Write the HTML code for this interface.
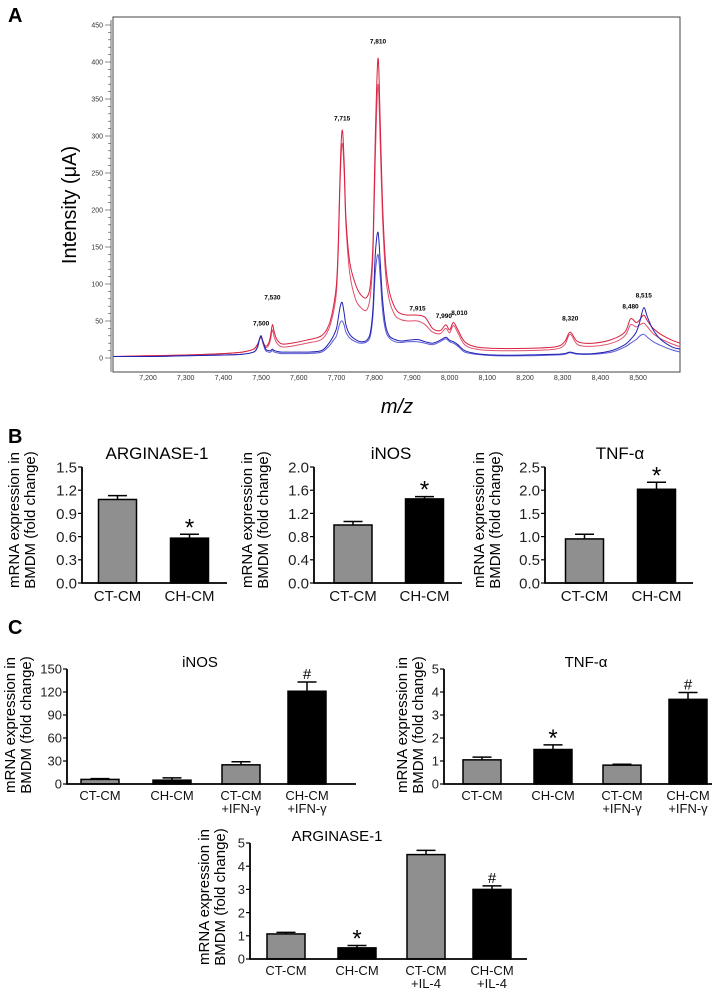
<!DOCTYPE html>
<html><head><meta charset="utf-8"><style>
html,body{margin:0;padding:0;background:#fff;}
svg{display:block;font-family:"Liberation Sans",sans-serif;}
</style></head><body>
<svg id="fig" width="725" height="993" viewBox="0 0 725 993" xmlns="http://www.w3.org/2000/svg">
<rect width="725" height="993" fill="#fff"/>
<text x="8" y="22" font-size="20" font-weight="bold">A</text>
<text x="8" y="443" font-size="20" font-weight="bold">B</text>
<text x="8" y="634" font-size="20" font-weight="bold">C</text>
<g id="spec"></g>
<g id="bars"></g>
</svg>
<script>
// ---- Panel A spectrum data ----
const mzGrid=[7108,7200,7300,7400,7450,7480,7490,7495,7500,7505,7512,7520,7525,7530,7535,7542,7555,7580,7620,7660,7680,7692,7700,7705,7710,7715,7720,7725,7735,7750,7765,7780,7790,7797,7803,7810,7816,7822,7830,7840,7855,7870,7890,7915,7935,7955,7975,7990,8000,8010,8022,8040,8070,8120,8200,8280,8305,8320,8340,8380,8430,8465,8480,8495,8505,8515,8525,8540,8560,8590,8612];
const redUpper=[2,3,4,6,8,12,18,24,28,22,16,20,30,45,35,25,19,20,24,30,45,70,100,160,260,308,270,190,130,100,85,82,100,160,300,405,320,210,130,90,68,60,58,58,55,40,37,45,38,48,38,22,15,13,13,15,22,35,22,20,25,35,53,48,52,58,50,40,32,24,20];
const redLower=[2,3,4,6,8,12,18,24,28,20,14,17,25,38,28,20,15,16,20,25,40,62,90,150,245,290,255,180,115,80,68,65,85,145,270,370,290,190,115,78,58,52,50,50,45,35,33,40,34,44,34,18,12,10,10,12,18,32,18,16,20,30,45,42,45,47,42,33,26,19,15];
const blueUpper=[2,2,3,4,5,8,14,24,30,22,12,10,10,12,10,9,8,8,8,10,20,30,40,55,70,75,62,45,32,25,22,24,35,70,140,170,130,80,45,30,25,23,24,25,22,20,24,28,24,22,18,10,6,4,4,5,6,8,6,6,10,18,25,35,50,68,55,38,25,15,12];
const blueLower=[2,2,3,4,5,8,14,24,30,20,10,8,8,10,8,7,6,6,6,8,16,24,30,40,48,50,45,35,27,22,20,22,30,60,115,140,110,65,38,27,22,21,22,22,20,18,22,26,22,20,16,8,5,3,3,4,5,7,5,5,8,15,20,25,30,32,28,22,17,11,8];
const peakMz=[7500,7530,7715,7810,7915,7990,8010,8320,8480,8515];
const peakLabelVal=[44,79,321,425,64,54,58,51,67,82];
const xTickVals=[7200,7300,7400,7500,7600,7700,7800,7900,8000,8100,8200,8300,8400,8500];
const yTickVals=[0,50,100,150,200,250,300,350,400,450];

const NS="http://www.w3.org/2000/svg";
function mk(parent,tag,attrs,txt){const e=document.createElementNS(NS,tag);for(const k in attrs)e.setAttribute(k,attrs[k]);if(txt!==undefined)e.textContent=txt;parent.appendChild(e);return e;}
const fmt=v=>v.toLocaleString('en-US');

const spec=document.getElementById('spec');
const sx=mz=>148+(mz-7200)*0.377;
const sy=v=>358-v*0.74;
let fr=mk(spec,'rect',{x:113,y:17,width:567,height:355,fill:'none',stroke:'#444','stroke-width':1});


let ya=mk(spec,'line',{x1:111,y1:20,x2:111,y2:372,stroke:'#444','stroke-width':0.8});


for(let v=0;v<=450;v+=10){
  const maj=v%50===0;
  mk(spec,'line',{x1:maj?105:108,y1:sy(v),x2:111,y2:sy(v),stroke:'#444','stroke-width':0.6});
}
yTickVals.forEach(v=>{
  const t=mk(spec,'text',{x:103,y:sy(v)+2.5,'font-size':7,'text-anchor':'end',fill:'#333'},String(v));
  
  
});
xTickVals.forEach(v=>{
  const t=mk(spec,'text',{x:sx(v),y:380,'font-size':7,'text-anchor':'middle',fill:'#333'},fmt(v));
  
  
});
let yt=mk(spec,'text',{x:0,y:0,'font-size':20,'text-anchor':'middle',transform:'translate(76,205) rotate(-90)'},'Intensity (μA)');


let xt=mk(spec,'text',{x:397,y:413,'font-size':20,'font-style':'italic','text-anchor':'middle'},'m/z');


function smoothPath(pts){
  let d='M'+pts[0][0].toFixed(1)+' '+pts[0][1].toFixed(1);
  for(let i=0;i<pts.length-1;i++){
    const p0=pts[Math.max(0,i-1)],p1=pts[i],p2=pts[i+1],p3=pts[Math.min(pts.length-1,i+2)];
    const c1=[p1[0]+(p2[0]-p0[0])/6,p1[1]+(p2[1]-p0[1])/6];
    const c2=[p2[0]-(p3[0]-p1[0])/6,p2[1]-(p3[1]-p1[1])/6];
    d+=` C${c1[0].toFixed(1)} ${c1[1].toFixed(1)} ${c2[0].toFixed(1)} ${c2[1].toFixed(1)} ${p2[0].toFixed(1)} ${p2[1].toFixed(1)}`;
  }
  return d;
}
const series=[[redLower,'#e0506e','red-spectrum-lower'],[redUpper,'#d8203f','red-spectrum-upper'],[blueLower,'#5a5ad8','blue-spectrum-lower'],[blueUpper,'#2222b0','blue-spectrum-upper']];
series.forEach(([vals,col,name])=>{
  const pts=vals.map((v,i)=>[sx(mzGrid[i]),sy(v)]);
  const p=mk(spec,'path',{d:smoothPath(pts),fill:'none',stroke:col,'stroke-width':1,'stroke-linejoin':'round'});
  
  
});
peakMz.forEach((m,i)=>{
  const dx=(m===8010)?6:(m===7990?-2:0);
  const t=mk(spec,'text',{x:sx(m)+dx,y:sy(peakLabelVal[i]),'font-size':6.5,'font-weight':'bold','text-anchor':'middle'},fmt(m));
  
  
});

// ---- Bar chart data ----
const bCats=['CT-CM','CH-CM'];
const bArgVals=[1.08,0.58], bArgErr=[0.05,0.05], bArgTicks=[0,0.3,0.6,0.9,1.2,1.5];
const bInosVals=[1.0,1.45], bInosErr=[0.06,0.04], bInosTicks=[0,0.4,0.8,1.2,1.6,2.0];
const bTnfVals=[0.95,2.02], bTnfErr=[0.1,0.15], bTnfTicks=[0,0.5,1.0,1.5,2.0,2.5];
const cIfnCats=[['CT-CM'],['CH-CM'],['CT-CM','+IFN-γ'],['CH-CM','+IFN-γ']];
const cIl4Cats=[['CT-CM'],['CH-CM'],['CT-CM','+IL-4'],['CH-CM','+IL-4']];
const cInosVals=[6,5,25,121], cInosErr=[1,3,4,12], cInosTicks=[0,30,60,90,120,150];
const cTnfVals=[1.05,1.5,0.82,3.68], cTnfErr=[0.12,0.2,0.04,0.3], cTnfTicks=[0,1,2,3,4,5];
const cArgVals=[1.08,0.48,4.5,3.0], cArgErr=[0.07,0.1,0.18,0.15], cArgTicks=[0,1,2,3,4,5];

const bars=document.getElementById('bars');
function chart(c){
  const g=mk(bars,'g',{});
  
  
  const max=c.ticks[c.ticks.length-1];
  const y=v=>c.y0-(v/max)*(c.y0-c.yTop);
  const t=mk(g,'text',{x:c.titleX,y:c.yTop-8+(c.titleDy||0),'font-size':c.fs+2,'text-anchor':'middle'},c.title);
  
  
  c.vals.forEach((v,i)=>{
    const cx=c.centers[i], w=c.w;
    const col=i%2===0?'#8f8f8f':'#000';
    const r=mk(g,'rect',{x:cx-w/2,y:y(v),width:w,height:c.y0-y(v),fill:col,stroke:'#000','stroke-width':1.5});
    
    
    const ey=y(v+c.err[i]);
    const e=mk(g,'path',{d:`M${cx} ${y(v)} L${cx} ${ey} M${cx-w/4} ${ey} L${cx+w/4} ${ey}`,stroke:'#000','stroke-width':1.5,fill:'none'});
    
    
    if(c.marks[i]){
      const star=c.marks[i]==='*';
      const m=mk(g,'text',{x:cx,y:star?ey+1:ey-3,'font-size':star?24:15,'text-anchor':'middle'},c.marks[i]);
      
      
    }
    const lines=Array.isArray(c.cats[i])?c.cats[i]:[c.cats[i]];
    lines.forEach((s,j)=>{
      const l=mk(g,'text',{x:cx,y:c.y0+c.fs+3+j*(c.fs),'font-size':c.fs,'text-anchor':'middle',fill:'#111'},s);
      
      
    });
  });
  const ax=mk(g,'path',{d:`M${c.ox} ${c.yTop} L${c.ox} ${c.y0} L${c.xEnd} ${c.y0}`,stroke:'#000','stroke-width':1.8,fill:'none'});
  
  
  c.ticks.forEach(v=>{
    mk(g,'line',{x1:c.ox-4,y1:y(v),x2:c.ox,y2:y(v),stroke:'#000','stroke-width':1.2});
    const l=mk(g,'text',{x:c.ox-5,y:y(v)+c.fs*0.36,'font-size':c.fs,'text-anchor':'end',fill:'#222'},c.fmt(v));
    
    
  });
  const yc=c.ytY;
  const a=mk(g,'text',{x:0,y:0,'font-size':c.yfs,'text-anchor':'middle',transform:`translate(${c.ytX},${yc}) rotate(-90)`},'mRNA expression in');
  
  
  const b=mk(g,'text',{x:0,y:0,'font-size':c.yfs,'text-anchor':'middle',transform:`translate(${c.ytX+c.yfs+1},${yc}) rotate(-90)`},'BMDM (fold change)');
  
  
}
const f1=v=>v.toFixed(1), f0=v=>String(v);
chart({name:'b-arginase-chart',title:'ARGINASE-1',titleX:157,ox:82,y0:583,yTop:467,xEnd:227,centers:[117.5,189.5],w:38,vals:bArgVals,err:bArgErr,ticks:bArgTicks,cats:bCats,marks:['','*'],fs:15,yfs:15,fmt:f1,ytX:19,ytY:520});
chart({name:'b-inos-chart',title:'iNOS',titleX:391,ox:314,y0:583,yTop:467,xEnd:462,centers:[353,424.5],w:38,vals:bInosVals,err:bInosErr,ticks:bInosTicks,cats:bCats,marks:['','*'],fs:15,yfs:15,fmt:f1,ytX:252,ytY:520});
chart({name:'b-tnf-chart',title:'TNF-α',titleX:620,ox:545,y0:583,yTop:467,xEnd:693,centers:[584.5,656.5],w:38,vals:bTnfVals,err:bTnfErr,ticks:bTnfTicks,cats:bCats,marks:['','*'],fs:15,yfs:15,fmt:f1,ytX:484,ytY:520});
chart({name:'c-inos-chart',title:'iNOS',titleX:200,titleDy:6,ox:67,y0:784,yTop:669,xEnd:356,centers:[100,172,241,307],w:38,vals:cInosVals,err:cInosErr,ticks:cInosTicks,cats:cIfnCats,marks:['','','','#'],fs:13,yfs:15,fmt:f0,ytX:15,ytY:725});
chart({name:'c-tnf-chart',title:'TNF-α',titleX:586,titleDy:6,ox:444,y0:784,yTop:669,xEnd:712,centers:[482,553,622,688],w:38,vals:cTnfVals,err:cTnfErr,ticks:cTnfTicks,cats:cIfnCats,marks:['','*','','#'],fs:13,yfs:15,fmt:f0,ytX:407,ytY:725});
chart({name:'c-arginase-chart',title:'ARGINASE-1',titleX:337,titleDy:6,ox:250,y0:959,yTop:843,xEnd:527,centers:[286,357,426,492],w:38,vals:cArgVals,err:cArgErr,ticks:cArgTicks,cats:cIl4Cats,marks:['','*','','#'],fs:13,yfs:15,fmt:f0,ytX:209,ytY:897});
</script>
</body></html>
